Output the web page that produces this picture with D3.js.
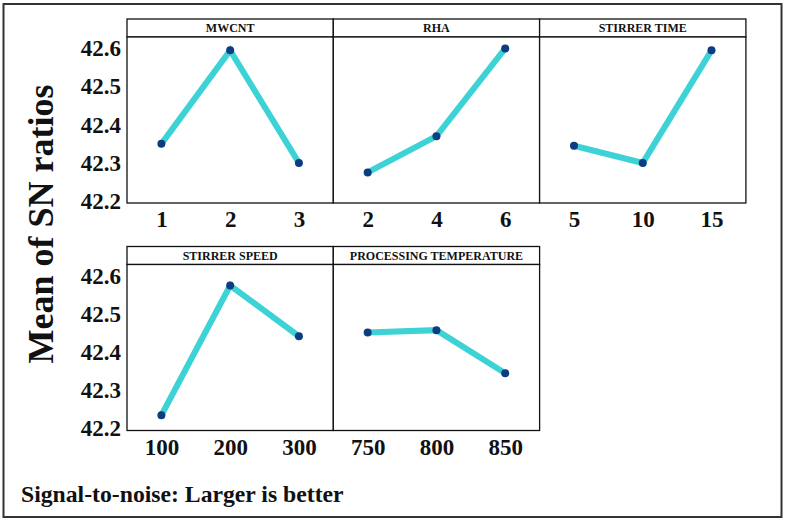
<!DOCTYPE html>
<html>
<head>
<meta charset="utf-8">
<script src="https://cdn.jsdelivr.net/npm/d3@7"></script>
<style>
  body { margin: 0; background: #fff; }
  svg { display: block; }
  text { font-family: "Liberation Serif", "Times New Roman", serif; font-weight: bold; fill: #111; }
</style>
</head>
<body>
<svg id="canvas" width="786" height="522"></svg>
<script>
// factors (panel titles) and their levels
var factors = ['MWCNT', 'RHA', 'STIRRER TIME', 'STIRRER SPEED', 'PROCESSING TEMPERATURE'];
var levels = [
  ['1', '2', '3'],
  ['2', '4', '6'],
  ['5', '10', '15'],
  ['100', '200', '300'],
  ['750', '800', '850']
];
// mean of SN ratios per level
var snMeans = [
  [42.35, 42.595, 42.30],
  [42.275, 42.37, 42.60],
  [42.345, 42.30, 42.595],
  [42.235, 42.575, 42.442],
  [42.452, 42.458, 42.345]
];
var yTicks = [42.2, 42.3, 42.4, 42.5, 42.6];

var svg, width, height, panelW, headerH, plotH, rowTops, colLefts;

init();

function init() {
  width = 786;
  height = 522;
  panelW = 206.3;
  headerH = 18;
  plotH = 166;
  rowTops = [19, 246.5];
  colLefts = [127, 333.3, 539.6];

  svg = d3.select('svg#canvas');

  // outer frame
  svg.append('rect')
    .attr('x', 3.5).attr('y', 4)
    .attr('width', 778).attr('height', 513)
    .attr('fill', 'none')
    .attr('stroke', '#333')
    .attr('stroke-width', 2);

  var line = d3.line();

  factors.forEach(function(name, i) {
    var row = Math.floor(i / 3), col = i % 3;
    var x0 = colLefts[col], top = rowTops[row];
    var plotTop = top + headerH, plotBottom = plotTop + plotH;

    var x = d3.scalePoint().domain(levels[i]).range([x0, x0 + panelW]).padding(0.5);
    var y = d3.scaleLinear().domain([42.195, 42.63]).range([plotBottom, plotTop]);

    var g = svg.append('g').attr('class', 'panel');

    // header strip
    g.append('rect')
      .attr('x', x0).attr('y', top)
      .attr('width', panelW).attr('height', headerH)
      .attr('fill', '#fff').attr('stroke', '#111').attr('stroke-width', 1.3);
    g.append('text')
      .attr('x', x0 + panelW / 2).attr('y', top + headerH / 2 + 4)
      .attr('text-anchor', 'middle')
      .style('font-size', '12px')
      .text(name);

    // plot box
    g.append('rect')
      .attr('x', x0).attr('y', plotTop)
      .attr('width', panelW).attr('height', plotH)
      .attr('fill', '#fff').attr('stroke', '#111').attr('stroke-width', 1.3);

    var pts = levels[i].map(function(l, j) { return [x(l), y(snMeans[i][j])]; });

    g.append('path')
      .attr('d', line(pts))
      .attr('fill', 'none')
      .attr('stroke', '#3dd2d6')
      .attr('stroke-width', 6)
      .attr('stroke-linejoin', 'miter');

    g.selectAll('circle').data(pts).enter().append('circle')
      .attr('cx', function(d) { return d[0]; })
      .attr('cy', function(d) { return d[1]; })
      .attr('r', 4)
      .attr('fill', '#0b3d80');

    // x axis labels
    var xAxis = g.append('g')
      .attr('transform', 'translate(0,' + plotBottom + ')')
      .call(d3.axisBottom(x).tickSize(0).tickPadding(8));
    xAxis.select('.domain').remove();
    xAxis.selectAll('text').style('font-size', '23px').attr('fill', '#111');

    // y axis labels only on the first column
    if (col === 0) {
      var yAxis = g.append('g')
        .attr('transform', 'translate(' + x0 + ',0)')
        .call(d3.axisLeft(y).tickValues(yTicks).tickFormat(d3.format('.1f')).tickSize(0).tickPadding(6));
      yAxis.select('.domain').remove();
      yAxis.selectAll('text').style('font-size', '23px').attr('fill', '#111');
    }
  });

  svg.append('text')
    .attr('transform', 'translate(53,224) rotate(-90)')
    .attr('text-anchor', 'middle')
    .style('font-size', '36px')
    .text('Mean of SN ratios');

  svg.append('text')
    .attr('x', 21).attr('y', 502)
    .style('font-size', '23.7px')
    .text('Signal-to-noise: Larger is better');
}
</script>
</body>
</html>
